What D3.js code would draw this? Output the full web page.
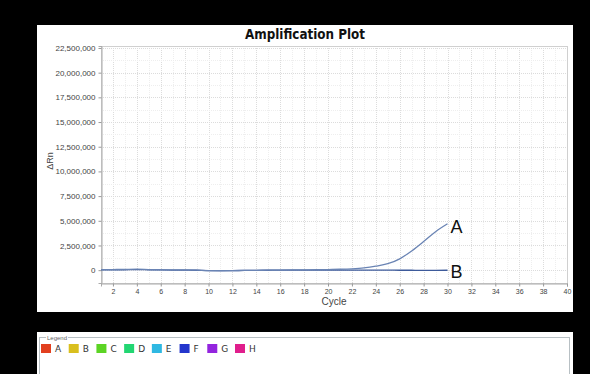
<!DOCTYPE html>
<html>
<head>
<meta charset="utf-8">
<script src="https://cdn.jsdelivr.net/npm/d3@7"></script>
<style>
  html, body { margin: 0; padding: 0; background: #000; }
  svg { display: block; }
</style>
</head>
<body>
<svg id="chart" width="590" height="374"></svg>
<script>
// ---- Data ----
const cycles = d3.range(1, 31);
const seriesA = [50000, 60000, 80000, 100000, 60000, 30000, 20000, 20000, 0, -50000,
  -60000, -50000, -30000, -20000, 0, 10000, 20000, 30000, 40000, 60000,
  90000, 140000, 230000, 400000, 650000, 1150000, 1950000, 2900000, 3900000, 4700000];
const seriesB = [20000, 30000, 40000, 60000, 40000, 20000, 10000, 0, -10000, -40000,
  -50000, -40000, -30000, -20000, -10000, 0, 0, 10000, 10000, 10000,
  10000, 10000, 0, 0, 0, -10000, -10000, -20000, -20000, -10000];
const yTicks = [0, 2500000, 5000000, 7500000, 10000000, 12500000, 15000000, 17500000, 20000000, 22500000];
const xTicks = d3.range(2, 41, 2);
const legendNames = ["A", "B", "C", "D", "E", "F", "G", "H"];
const legendColors = ["#e2401f", "#d9bf1e", "#5cd424", "#22d672", "#2fb8e2", "#2436cc", "#9324de", "#e01e8c"];

// ---- Layout ----
const svg = d3.select("#chart");
const m = { left: 101, right: 567, top: 46, bottom: 283 };

svg.append("rect").attr("x", 37).attr("y", 25).attr("width", 536).attr("height", 287).attr("fill", "#fff");

const x = d3.scaleLinear().domain([1, 40]).range([m.left, m.right]);
const y = d3.scaleLinear().domain([-1300000, 22700000]).range([m.bottom, m.top]);

// grid
const g = svg.append("g");
const minorX = d3.range(1, 41, 1);
const minorY = d3.range(0, 22500001, 1250000);
g.selectAll(".vx").data(minorX).join("line")
  .attr("x1", d => Math.round(x(d)) + 0.5).attr("x2", d => Math.round(x(d)) + 0.5).attr("y1", m.top).attr("y2", m.bottom)
  .attr("stroke", d => d % 2 === 0 ? "#dcdcdc" : "#eeeeee").attr("stroke-width", 1)
  .attr("stroke-dasharray", "1,1");
g.selectAll(".hy").data(minorY).join("line")
  .attr("x1", m.left).attr("x2", m.right).attr("y1", d => Math.round(y(d)) + 0.5).attr("y2", d => Math.round(y(d)) + 0.5)
  .attr("stroke", d => d % 2500000 === 0 ? "#dcdcdc" : "#eeeeee").attr("stroke-width", 1)
  .attr("stroke-dasharray", "1,1");

// frame
svg.append("rect").attr("x", m.left + 0.5).attr("y", m.top + 0.5)
  .attr("width", m.right - m.left).attr("height", m.bottom - m.top)
  .attr("fill", "none").attr("stroke", "#d0d0d0");

// axes
const yAxis = d3.axisLeft(y).tickValues(yTicks).tickSize(3).tickPadding(3)
  .tickFormat(d3.format(","));
const ya = svg.append("g").attr("transform", `translate(${m.left + 0.5},0)`).call(yAxis);
ya.select(".domain").attr("stroke", "#aaa");
ya.selectAll(".tick line").attr("stroke", "#999");
ya.selectAll("text").attr("font-family", "Liberation Sans, Arial, sans-serif").attr("font-size", 8).attr("fill", "#444");

const xAxis = d3.axisBottom(x).tickValues(xTicks).tickSize(3).tickPadding(3);
const xa = svg.append("g").attr("transform", `translate(0,${m.bottom + 0.5})`).call(xAxis);
xa.select(".domain").attr("stroke", "#aaa");
xa.selectAll(".tick line").attr("stroke", "#999");
xa.selectAll("text").attr("font-family", "Liberation Sans, Arial, sans-serif").attr("font-size", 7).attr("fill", "#444");

// lines
const line = d3.line().x((d, i) => x(cycles[i])).y(d => y(d)).curve(d3.curveMonotoneX);
svg.append("path").datum(seriesB).attr("d", line).attr("fill", "none").attr("stroke", "#3d5a9a").attr("stroke-width", 1.3);
svg.append("path").datum(seriesA).attr("d", line).attr("fill", "none").attr("stroke", "#6a84b4").attr("stroke-width", 1.3);

// labels A/B
svg.append("text").attr("x", x(30) + 3).attr("y", y(seriesA[29]) + 9)
  .attr("font-family", "Liberation Sans, Arial, sans-serif").attr("font-size", 18).attr("fill", "#111").text("A");
svg.append("text").attr("x", x(30) + 3).attr("y", y(seriesB[29]) + 8)
  .attr("font-family", "Liberation Sans, Arial, sans-serif").attr("font-size", 18).attr("fill", "#111").text("B");

// title & axis titles
svg.append("text").attr("x", 305).attr("y", 39).attr("text-anchor", "middle")
  .attr("font-family", "DejaVu Sans, Verdana, sans-serif").attr("font-weight", "bold").attr("font-size", 14)
  .attr("textLength", 120).attr("lengthAdjust", "spacingAndGlyphs")
  .attr("fill", "#111").text("Amplification Plot");
svg.append("text").attr("transform", `translate(${53},${161}) rotate(-90)`).attr("text-anchor", "middle")
  .attr("font-family", "Liberation Sans, Arial, sans-serif").attr("font-size", 9).attr("fill", "#444").text("ΔRn");
svg.append("text").attr("x", 334).attr("y", 305).attr("text-anchor", "middle")
  .attr("font-family", "Liberation Sans, Arial, sans-serif").attr("font-size", 10).attr("fill", "#444").text("Cycle");

// legend panel
svg.append("rect").attr("x", 37).attr("y", 332).attr("width", 536).attr("height", 45).attr("fill", "#fff");
svg.append("rect").attr("x", 39.5).attr("y", 337.5).attr("width", 530).attr("height", 40)
  .attr("fill", "none").attr("stroke", "#b8c0c4");
svg.append("rect").attr("x", 46).attr("y", 333).attr("width", 22).attr("height", 8).attr("fill", "#fff");
svg.append("text").attr("x", 47).attr("y", 339.5).attr("font-family", "Liberation Sans, Arial, sans-serif")
  .attr("font-size", 6).attr("fill", "#666").text("Legend");
const lx = d3.scalePoint().domain(legendNames).range([41, 235]);
const lg = svg.append("g").selectAll("g").data(legendNames).join("g")
  .attr("transform", d => `translate(${lx(d)},344)`);
lg.append("rect").attr("width", 10).attr("height", 9).attr("fill", (d, i) => legendColors[i]);
lg.append("text").attr("x", 14).attr("y", 8).attr("font-family", "DejaVu Sans, Verdana, sans-serif")
  .attr("font-size", 9).attr("fill", "#333").text(d => d);
</script>
</body>
</html>
